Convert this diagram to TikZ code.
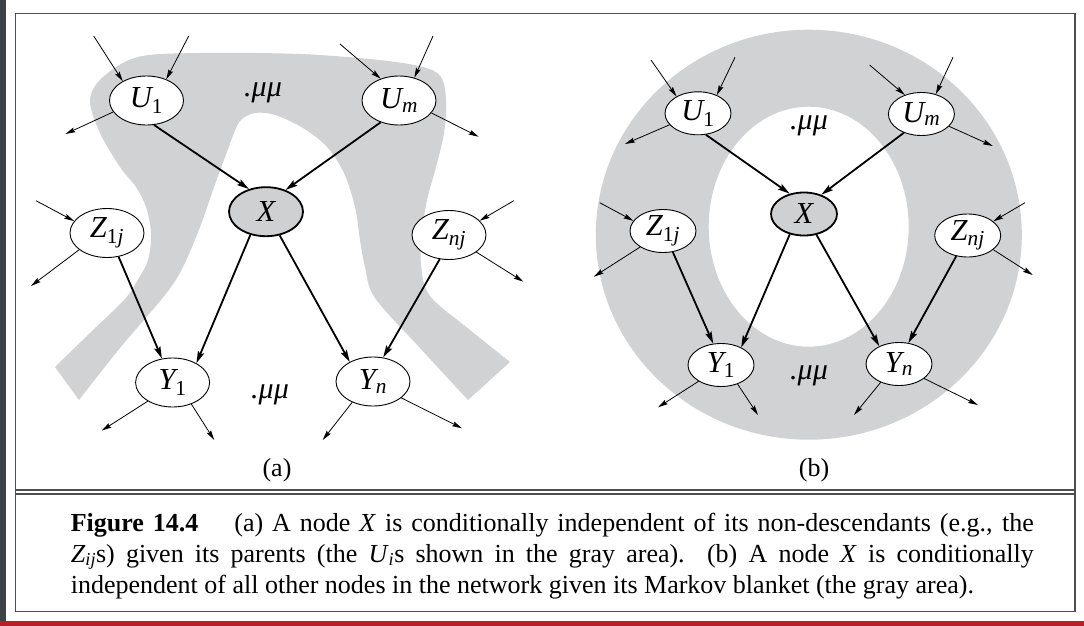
\documentclass[tikz,border=0pt]{standalone}
\usepackage{fontspec}
\setmainfont{Liberation Serif}
\usetikzlibrary{arrows.meta,shapes.geometric}
\definecolor{blanket}{HTML}{D1D2D4}
\definecolor{xfill}{HTML}{CFD0D2}
\definecolor{framecol}{HTML}{4E4E4E}
\definecolor{stripcol}{HTML}{3D4247}
\definecolor{redbar}{HTML}{B71F2A}
\begin{document}
\begin{tikzpicture}[x=1pt,y=-1pt,
  every node/.style={inner sep=0pt},
  var/.style={ellipse, draw, line width=0.9pt, fill=white, font=\fontsize{30.5}{30}\selectfont\itshape},
  vara/.style={var, minimum width=74pt, minimum height=49pt},
  varb/.style={var, minimum width=66pt, minimum height=43pt},
  xnode/.style={fill=xfill, line width=1.8pt},
  shortarr/.style={line width=0.8pt, -{Stealth[length=10pt,width=5pt,inset=1.5pt]}},
  mainarr/.style={line width=1.8pt, -{Stealth[length=12pt,width=6.5pt,inset=2pt]}},
  dots/.style={font=\fontsize{30}{30}\selectfont\itshape},
  sublabel/.style={font=\fontsize{26}{26}\selectfont},
  capline/.style={anchor=base west, font=\fontsize{26}{26}\selectfont}]
\useasboundingbox (0,0) rectangle (1084,626);
\fill[white] (0,0) rectangle (1084,626);
\fill[stripcol] (0,0) rectangle (5.5,620.5);
\fill[redbar] (0,620.5) rectangle (1084,626);
\draw[framecol, line width=1.6pt] (15.5,13.5) rectangle (1075,611.5);
\draw[framecol, line width=1.4pt] (15.5,490) -- (1075,490) (15.5,494) -- (1075,494);

% gray area (a)
\fill[blanket] plot[smooth, tension=0.55] coordinates {(55,367) (90,333) (124,300) (136,283) (148,260) (151,233) (146,207) (136,187) (120,167) (100,133) (90,100) (103,77) (138,57) (200,53) (300,54) (379,60) (423,67) (441,77) (446,100) (444,133) (436,167) (427,200) (422,233) (421,265) (430,296) (470,330) (510,362)}
 -- plot[smooth, tension=0.55] coordinates {(468,400) (420,348) (375,298) (365,267) (360,240) (355,207) (344,173) (327,147) (303,128) (275,115) (255,113) (241,120) (234,133) (224,160) (213,190) (200,227) (183,267) (165,295) (120,348) (79,400)} -- cycle;

% gray area (b)
\fill[blanket, even odd rule] (808.8,234.7) ellipse [x radius=213pt, y radius=205pt] (808.7,226.7) ellipse [x radius=100pt, y radius=120pt];

% ---------- (a) ----------
\node[vara] (aU1) at (146.5,100.5) {U\textsubscript{\textup{1}}};
\node[vara] (aUm) at (399,100.5) {U\textsubscript{m}};
\node[vara, xnode] (aX) at (266,211.7) {X};
\node[vara] (aZ1) at (107,233) {Z\textsubscript{\textup{1}j}};
\node[vara] (aZn) at (449,235) {Z\textsubscript{nj}};
\node[vara] (aY1) at (172.6,382.5) {Y\textsubscript{\textup{1}}};
\node[vara] (aYn) at (373,381.5) {Y\textsubscript{n}};
\node[dots] (adt) at (263,93) {.μμ};
\node[dots] (adb) at (270,395) {.μμ};
\node[sublabel] (alab) at (277,470) {(a)};

\coordinate (aU1i1) at (93.7,36);
\coordinate (aU1i2) at (188.7,36);
\coordinate (aU1o) at (65.4,134);
\coordinate (aUmi1) at (340,44);
\coordinate (aUmi2) at (433,36);
\coordinate (aUmo) at (478.6,136.7);
\coordinate (aZ1i) at (36,200.7);
\coordinate (aZ1o) at (31,286);
\coordinate (aZni) at (513.8,200.7);
\coordinate (aZno) at (523.4,281.7);
\coordinate (aY1o1) at (101.6,430.7);
\coordinate (aY1o2) at (214.2,440);
\coordinate (aYno1) at (322.7,440);
\coordinate (aYno2) at (462,428.3);

\draw[shortarr] (aU1i1) -- (aU1.141.7);
\draw[shortarr] (aU1i2) -- (aU1.47.2);
\draw[shortarr] (aU1.199) -- (aU1o);
\draw[shortarr] (aUmi1) -- (aUm.130.6);
\draw[shortarr] (aUmi2) -- (aUm.56.9);
\draw[shortarr] (aUm.-21.2) -- (aUmo);
\draw[shortarr] (aZ1i) -- (aZ1.160);
\draw[shortarr] (aZ1.211.4) -- (aZ1o);
\draw[shortarr] (aZni) -- (aZn.25.3);
\draw[shortarr] (aZn.-32.5) -- (aZno);
\draw[shortarr] (aY1.217) -- (aY1o1);
\draw[shortarr] (aY1.311.9) -- (aY1o2);
\draw[shortarr] (aYn.225) -- (aYno1);
\draw[shortarr] (aYn.330.7) -- (aYno2);

\draw[mainarr] (aU1.-73) -- (aX.127.9);
\draw[mainarr] (aUm.230.2) -- (aX.48.8);
\draw[mainarr] (aX.236.7) -- (aY1.39.6);
\draw[mainarr] (aX.300.3) -- (aYn.140);
\draw[mainarr] (aZ1.296.8) -- (aY1.114.2);
\draw[mainarr] (aZn.249.5) -- (aYn.67.4);

% ---------- (b) ----------
\node[varb] (bU1) at (698,113.3) {U\textsubscript{\textup{1}}};
\node[varb] (bUm) at (921.4,114) {U\textsubscript{m}};
\node[varb, xnode] (bX) at (804,214) {X};
\node[varb] (bZ1) at (663,231) {Z\textsubscript{\textup{1}j}};
\node[varb] (bZn) at (967.7,235.5) {Z\textsubscript{nj}};
\node[varb] (bY1) at (721,365) {Y\textsubscript{\textup{1}}};
\node[varb] (bYn) at (899,364) {Y\textsubscript{n}};
\node[dots] (bdt) at (809,126) {.μμ};
\node[dots] (bdb) at (809,376) {.μμ};
\node[sublabel] (blab) at (814,470) {(b)};

\coordinate (bU1i1) at (651,60);
\coordinate (bU1i2) at (735,57.3);
\coordinate (bU1o) at (625,144);
\coordinate (bUmi1) at (869.6,65);
\coordinate (bUmi2) at (953,57.3);
\coordinate (bUmo) at (992.8,146);
\coordinate (bZ1i) at (599.7,202.7);
\coordinate (bZ1o) at (593.8,276.7);
\coordinate (bZni) at (1025,202.7);
\coordinate (bZno) at (1032.7,275);
\coordinate (bY1o1) at (658,407.3);
\coordinate (bY1o2) at (758,415);
\coordinate (bYno1) at (854,415);
\coordinate (bYno2) at (978,405);

\draw[shortarr] (bU1i1) -- (bU1.142.8);
\draw[shortarr] (bU1i2) -- (bU1.44);
\draw[shortarr] (bU1.202) -- (bU1o);
\draw[shortarr] (bUmi1) -- (bUm.131.4);
\draw[shortarr] (bUmi2) -- (bUm.54.5);
\draw[shortarr] (bUm.336.4) -- (bUmo);
\draw[shortarr] (bZ1i) -- (bZ1.161);
\draw[shortarr] (bZ1.215.1) -- (bZ1o);
\draw[shortarr] (bZni) -- (bZn.29.5);
\draw[shortarr] (bZn.331) -- (bZno);
\draw[shortarr] (bY1.216.2) -- (bY1o1);
\draw[shortarr] (bY1.311.2) -- (bY1o2);
\draw[shortarr] (bYn.225.4) -- (bYno1);
\draw[shortarr] (bYn.330.8) -- (bYno2);

\draw[mainarr] (bU1.290.2) -- (bX.125.2);
\draw[mainarr] (bUm.227.3) -- (bX.48.6);
\draw[mainarr] (bX.235) -- (bY1.41);
\draw[mainarr] (bX.301.7) -- (bYn.138.6);
\draw[mainarr] (bZ1.295.4) -- (bY1.110.9);
\draw[mainarr] (bZn.241.9) -- (bYn.66.9);

% ---------- caption ----------
\node[capline] (cap1) at (70.6,531) {\makebox[963pt][s]{\textbf{Figure 14.4}\hspace{36pt}(a) A node \textit{X} is conditionally independent of its non-descendants (e.g., the}};
\node[capline] (cap2) at (70.6,562) {\makebox[963pt][s]{\textit{Z}\textsubscript{\textit{ij}}s) given its parents (the \textit{U}\textsubscript{\textit{i}}s shown in the gray area).\ \ (b) A node \textit{X} is conditionally}};
\node[capline] (cap3) at (70.6,593) {independent of all other nodes in the network given its Markov blanket (the gray area).};
\end{tikzpicture}
\end{document}
